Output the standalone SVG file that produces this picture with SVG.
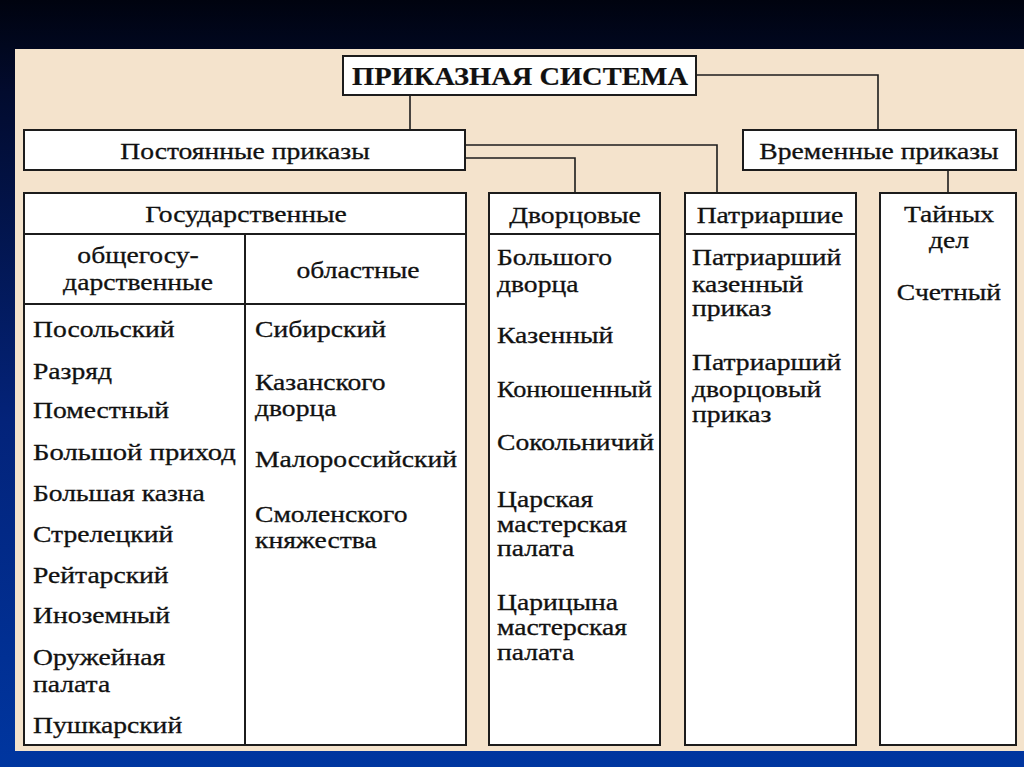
<svg xmlns="http://www.w3.org/2000/svg" width="1024" height="767" viewBox="0 0 1024 767">
<defs>
<linearGradient id="bg" x1="0" y1="0" x2="0" y2="1">
<stop offset="0" stop-color="#00030f"/>
<stop offset="0.12" stop-color="#020b2e"/>
<stop offset="0.55" stop-color="#03237a"/>
<stop offset="1" stop-color="#0036a0"/>
</linearGradient>
<style>
.box{fill:#ffffff;stroke:#1c1c1c;stroke-width:2}
.ln{fill:none;stroke:#1c1c1c;stroke-width:2}
.c{fill:none;stroke:#1c1c1c;stroke-width:1.6}
text{font-family:"Liberation Serif","Times New Roman",serif;font-size:23px;fill:#111111;stroke:#111111;stroke-width:0.3}
.mid{text-anchor:middle}
.ttl{font-size:25px;font-weight:bold;stroke-width:0.2}
</style>
</defs>
<rect x="0" y="0" width="1024" height="767" fill="url(#bg)"/>
<rect x="15" y="49" width="1009" height="702" fill="#f4e3cc"/>

<g id="connectors">
<path class="c" d="M410 95 V130"/>
<path class="c" d="M696 75 H878 V130"/>
<path class="c" d="M465 145 H717 V193"/>
<path class="c" d="M465 158 H575 V193"/>
<path class="c" d="M948 170 V193"/>
</g>

<g id="title">
<rect class="box" x="343" y="56" width="353" height="39"/>
<text class="mid ttl" x="520" y="85" textLength="336" lengthAdjust="spacingAndGlyphs">ПРИКАЗНАЯ СИСТЕМА</text>
</g>

<g id="permanent">
<rect class="box" x="24" y="130" width="441" height="40"/>
<g transform="translate(245 159) scale(1.2 1)"><text class="mid" x="0" y="0">Постоянные приказы</text></g>
</g>

<g id="temporary">
<rect class="box" x="743" y="130" width="273" height="40"/>
<g transform="translate(879 159) scale(1.2 1)"><text class="mid" x="0" y="0">Временные приказы</text></g>
</g>

<g id="state">
<rect class="box" x="24" y="193" width="442" height="552"/>
<path class="ln" d="M24 234 H466 M24 304 H466 M245 234 V745"/>
<g transform="translate(246 0) scale(1.2 1)"><text class="mid" x="0" y="222">Государственные</text></g>
<g transform="translate(138 0) scale(1.2 1)">
<text class="mid" x="0" y="263">общегосу-</text>
<text class="mid" x="0" y="290">дарственные</text>
</g>
<g transform="translate(358 0) scale(1.2 1)"><text class="mid" x="0" y="278">областные</text></g>
<g transform="translate(33 0) scale(1.2 1)">
<text x="0" y="337">Посольский</text>
<text x="0" y="379">Разряд</text>
<text x="0" y="418">Поместный</text>
<text x="0" y="460" textLength="169" lengthAdjust="spacingAndGlyphs">Большой приход</text>
<text x="0" y="501">Большая казна</text>
<text x="0" y="542">Стрелецкий</text>
<text x="0" y="583">Рейтарский</text>
<text x="0" y="623">Иноземный</text>
<text x="0" y="665">Оружейная</text>
<text x="0" y="692">палата</text>
<text x="0" y="733">Пушкарский</text>
</g>
<g transform="translate(255 0) scale(1.2 1)">
<text x="0" y="337">Сибирский</text>
<text x="0" y="390">Казанского</text>
<text x="0" y="416">дворца</text>
<text x="0" y="467">Малороссийский</text>
<text x="0" y="522">Смоленского</text>
<text x="0" y="548">княжества</text>
</g>
</g>

<g id="palace">
<rect class="box" x="489" y="193" width="171" height="552"/>
<path class="ln" d="M489 234 H660"/>
<g transform="translate(575 0) scale(1.2 1)"><text class="mid" x="0" y="223">Дворцовые</text></g>
<g transform="translate(497 0) scale(1.2 1)">
<text x="0" y="265">Большого</text>
<text x="0" y="292">дворца</text>
<text x="0" y="343">Казенный</text>
<text x="0" y="397" textLength="129" lengthAdjust="spacingAndGlyphs">Конюшенный</text>
<text x="0" y="450">Сокольничий</text>
<text x="0" y="507">Царская</text>
<text x="0" y="532">мастерская</text>
<text x="0" y="556">палата</text>
<text x="0" y="610">Царицына</text>
<text x="0" y="635">мастерская</text>
<text x="0" y="660">палата</text>
</g>
</g>

<g id="patriarchal">
<rect class="box" x="685" y="193" width="171" height="552"/>
<path class="ln" d="M685 234 H856"/>
<g transform="translate(770 0) scale(1.2 1)"><text class="mid" x="0" y="223">Патриаршие</text></g>
<g transform="translate(692 0) scale(1.2 1)">
<text x="0" y="265">Патриарший</text>
<text x="0" y="292">казенный</text>
<text x="0" y="316">приказ</text>
<text x="0" y="370">Патриарший</text>
<text x="0" y="397">дворцовый</text>
<text x="0" y="422">приказ</text>
</g>
</g>

<g id="secret">
<rect class="box" x="880" y="193" width="136" height="552"/>
<g transform="translate(949 0) scale(1.2 1)">
<text class="mid" x="0" y="222">Тайных</text>
<text class="mid" x="0" y="248">дел</text>
<text class="mid" x="0" y="300">Счетный</text>
</g>
</g>
</svg>
